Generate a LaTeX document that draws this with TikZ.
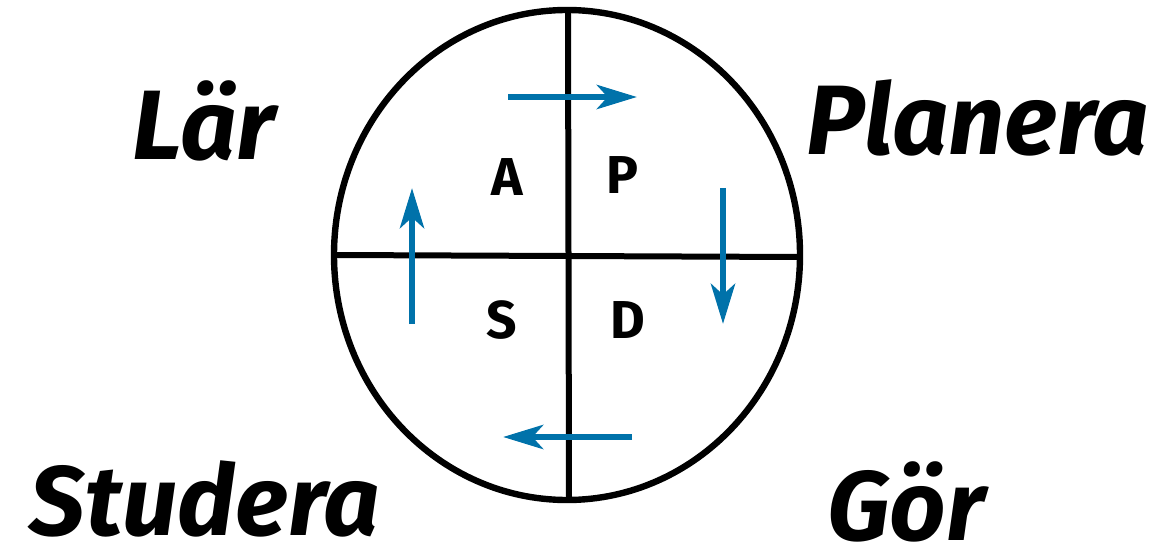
\documentclass[tikz,border=0pt]{standalone}
\usepackage{fontspec}
\setmainfont{Fira Sans}
\usetikzlibrary{arrows.meta,shapes.geometric}
\definecolor{pdsablue}{RGB}{0,114,170}
\begin{document}
\begin{tikzpicture}[x=0.75pt,y=-0.75pt,
  rim/.style={line width=4.8pt,black},
  cycarrow/.style={line width=5pt,pdsablue,-{Stealth[length=30pt,width=18pt,inset=8pt]}},
  biglabel/.style={inner sep=0pt,font=\fontsize{74}{80}\selectfont\bfseries\itshape},
  quadlabel/.style={inner sep=0pt,font=\fontsize{40}{46}\selectfont\bfseries}]
\useasboundingbox (0,0) rectangle (1153,549);
\node[draw,rim,ellipse,minimum width=466*0.75pt,minimum height=490*0.75pt,inner sep=0pt] (c) at (567,255) {};
\coordinate (vt) at (568,10);
\coordinate (vb) at (569,500);
\coordinate (hl) at (336,255);
\coordinate (hr) at (797,257);
\draw[rim,line width=4.5pt] (vt) -- (vb);
\draw[rim,line width=4.5pt] (hl) -- (hr);
% cycle arrows
\coordinate (t1) at (508,97);  \coordinate (t2) at (637,97);
\coordinate (r1) at (723,188); \coordinate (r2) at (723,324);
\coordinate (b1) at (632,437); \coordinate (b2) at (503,437);
\coordinate (l1) at (412,324); \coordinate (l2) at (412,188);
\draw[cycarrow] (t1) -- (t2);
\draw[cycarrow] (r1) -- (r2);
\draw[cycarrow] (b1) -- (b2);
\draw[cycarrow] (l1) -- (l2);
% quadrant letters
\node[quadlabel] (A) at (507,177) {A};
\node[quadlabel] (P) at (622,175) {P};
\node[quadlabel] (S) at (502,320) {S};
\node[quadlabel] (D) at (628,320) {D};
% outer labels
\node[biglabel] (lar) at (204,121) {Lär};
\node[biglabel] (plan) at (978,118) {Planera};
\node[biglabel] (stud) at (205,499) {Studera};
\node[biglabel] (gor) at (906,502) {Gör};
\end{tikzpicture}
\end{document}
